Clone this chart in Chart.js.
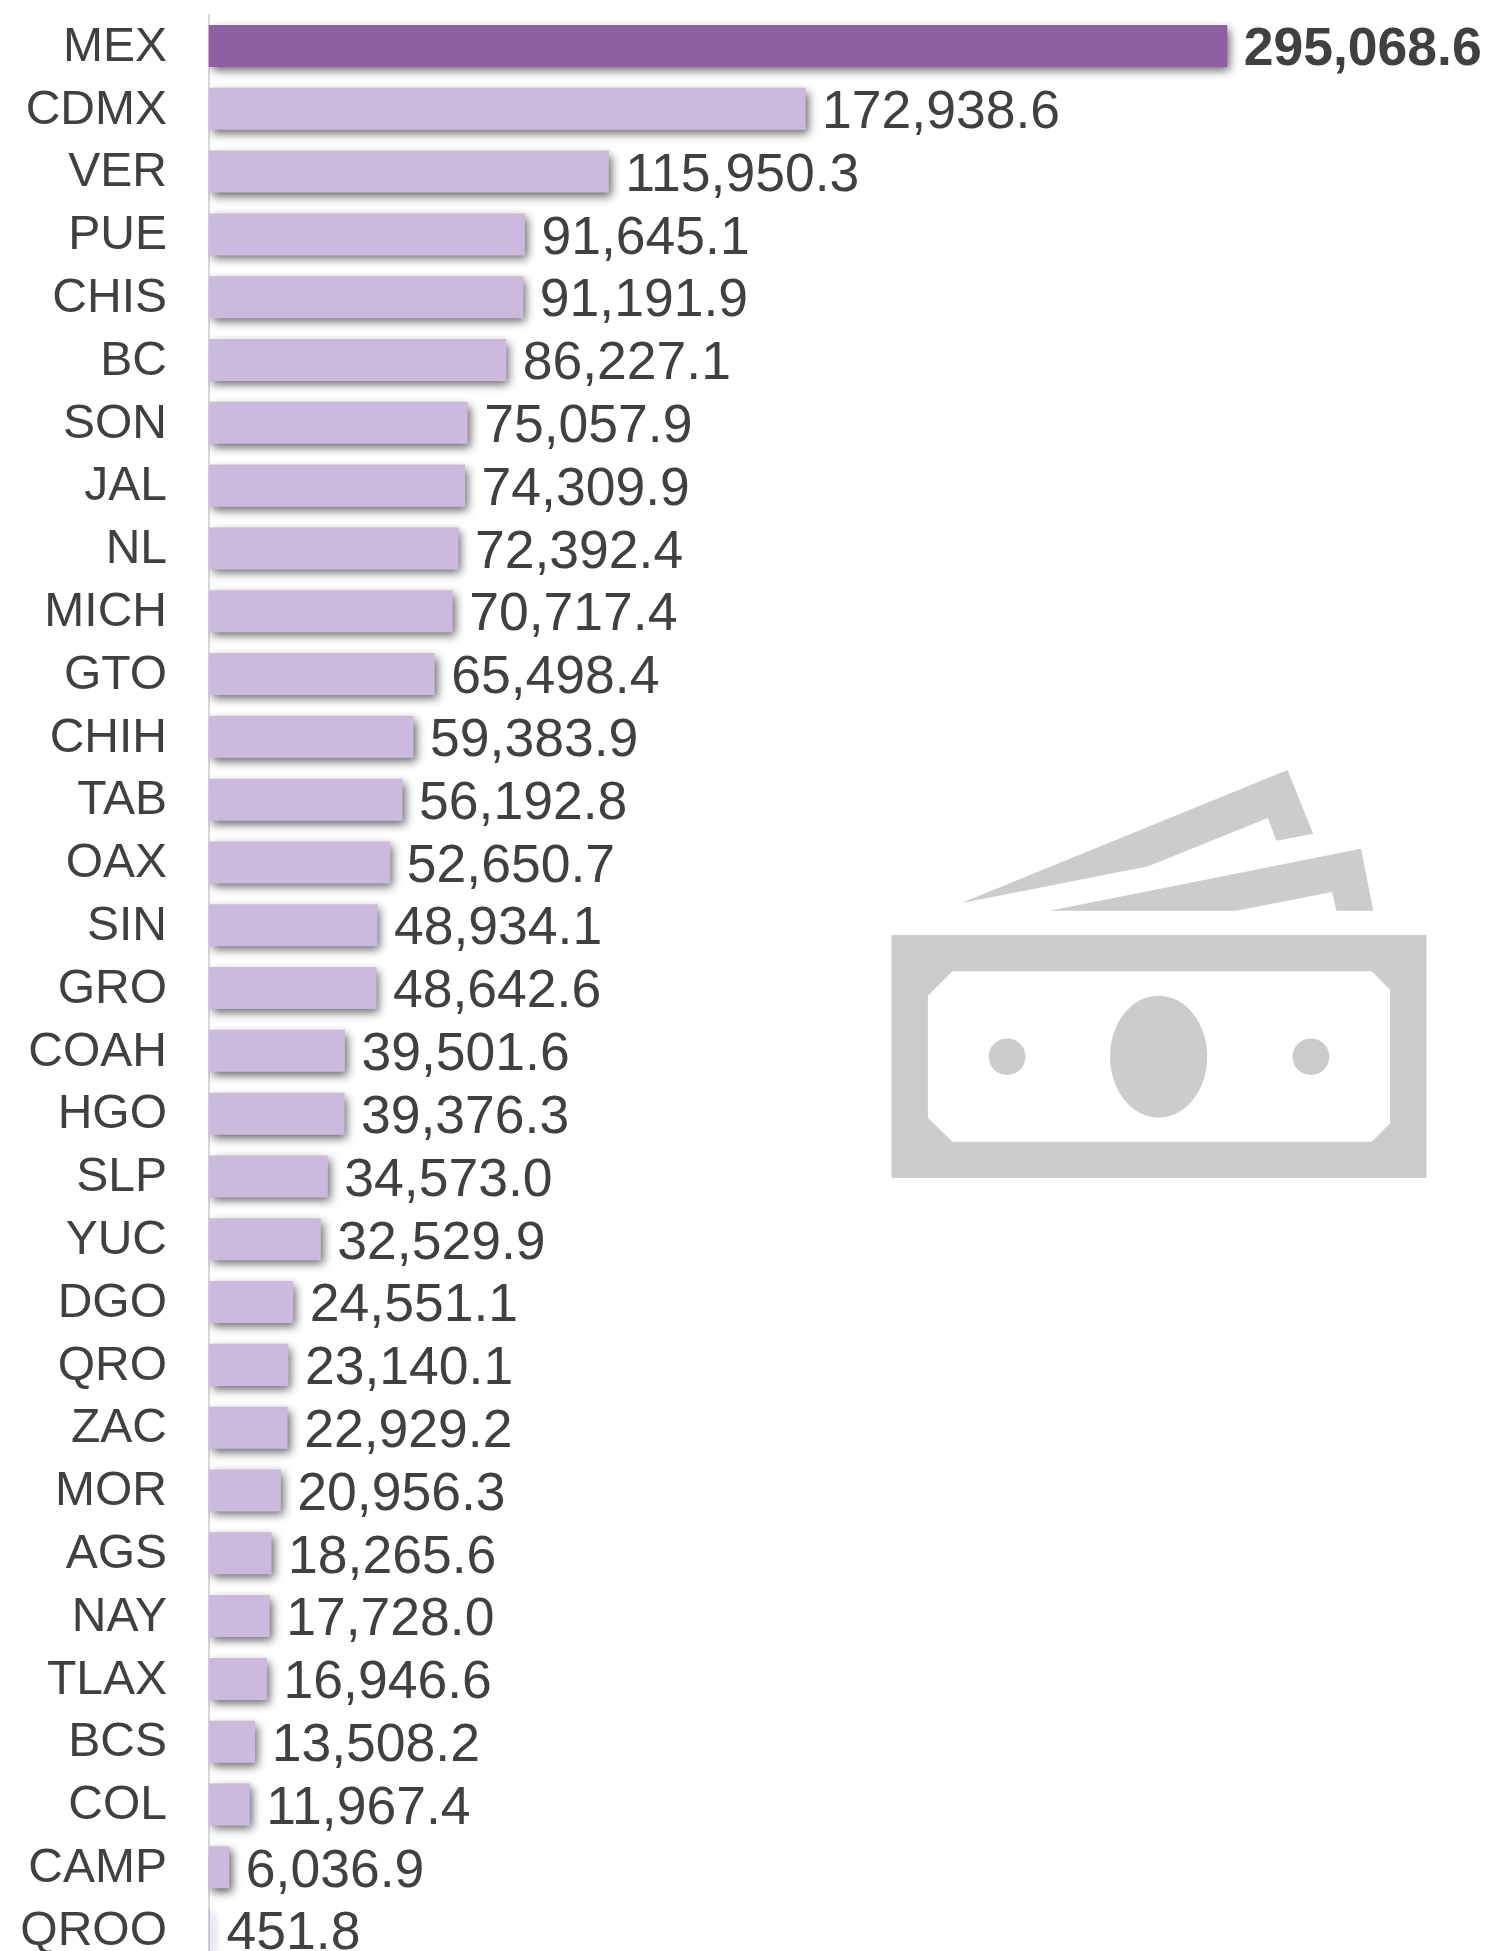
<!DOCTYPE html>
<html>
<head>
<meta charset="utf-8">
<title>Barras por entidad</title>
<script src="https://cdn.jsdelivr.net/npm/chart.js@4/dist/chart.umd.min.js"></script>
<style>
    html, body { margin: 0; background: #fff; height: 1951px; overflow: hidden; }
    #wrap { width: 1490px; height: 1951px; overflow: hidden; }
    canvas { display: block; }
</style>
</head>
<body>
<div id="wrap"><canvas id="barChart" width="1490" height="1975"></canvas></div>
<script>
const states = ['MEX', 'CDMX', 'VER', 'PUE', 'CHIS', 'BC', 'SON', 'JAL', 'NL', 'MICH', 'GTO', 'CHIH', 'TAB', 'OAX', 'SIN', 'GRO',
    'COAH', 'HGO', 'SLP', 'YUC', 'DGO', 'QRO', 'ZAC', 'MOR', 'AGS', 'NAY', 'TLAX', 'BCS', 'COL', 'CAMP', 'QROO'];
const amounts = [295068.6, 172938.6, 115950.3, 91645.1, 91191.9, 86227.1, 75057.9, 74309.9, 72392.4, 70717.4, 65498.4, 59383.9, 56192.8, 52650.7, 48934.1, 48642.6,
    39501.6, 39376.3, 34573.0, 32529.9, 24551.1, 23140.1, 22929.2, 20956.3, 18265.6, 17728.0, 16946.6, 13508.2, 11967.4, 6036.9, 451.8];
const textColor = '#404040';
const fontName = '"Liberation Sans", Arial, sans-serif';

// Soft shadow behind the bars, bottom right
const barShadow = {
    id: 'barShadow',
    beforeDatasetsDraw(chart) {
        const c = chart.ctx;
        c.save();
        c.shadowColor = 'rgba(0, 0, 0, 0.6)';
        c.shadowBlur = 9;
        c.shadowOffsetX = 3;
        c.shadowOffsetY = 4;
    },
    afterDatasetsDraw(chart) {
        chart.ctx.restore();
    }
};

// Value written after the end of each bar
const valueLabels = {
    id: 'valueLabels',
    afterDraw(chart) {
        const c = chart.ctx;
        const bars = chart.getDatasetMeta(0).data;
        c.save();
        c.fillStyle = textColor;
        c.textAlign = 'left';
        c.textBaseline = 'middle';
        bars.forEach((bar, i) => {
            c.font = (i === 0 ? 'bold ' : '') + '53.5px ' + fontName;
            const text = amounts[i].toLocaleString('en-US', { minimumFractionDigits: 1 });
            c.fillText(text, bar.x + 16.5, bar.y + 4.5);
        });
        c.restore();
    }
};

// Banknote icon in the empty part of the chart
const billIcon = {
    id: 'billIcon',
    afterDraw(chart) {
        const c = chart.ctx;
        const shape = pts => {
            c.beginPath();
            pts.forEach((p, i) => i ? c.lineTo(p[0], p[1]) : c.moveTo(p[0], p[1]));
            c.closePath();
            c.fill();
        };
        const oval = (x, y, rx, ry) => {
            c.beginPath();
            c.ellipse(x, y, rx, ry, 0, 0, Math.PI * 2);
            c.fill();
        };
        c.save();
        c.fillStyle = '#cccccc';
        shape([[960.7, 903.3], [1287.5, 770], [1313.2, 833.7], [1276.5, 840.7], [1267.7, 818], [1148.3, 866.3]]);
        shape([[1049.5, 910.7], [1361, 848.7], [1373.3, 910.7], [1336.5, 910.7], [1332, 892], [1236.2, 910.7]]);
        c.fillRect(891.5, 935, 535, 243);
        c.fillStyle = '#ffffff';
        shape([[952.3, 971.3], [1371.7, 971.3], [1390.1, 990], [1390.1, 1123.3], [1371.7, 1141.7], [952.3, 1141.7], [927.9, 1117.7], [927.9, 995.7]]);
        c.fillStyle = '#cccccc';
        oval(1158.6, 1056.7, 48.6, 61);
        oval(1007.1, 1056.7, 18.4, 18.3);
        oval(1310.9, 1056.7, 18.4, 18.3);
        c.restore();
    }
};

const ctx = document.getElementById('barChart').getContext('2d');
new Chart(ctx, {
    type: 'bar',
    data: {
        labels: states,
        datasets: [{
            data: amounts,
            backgroundColor: states.map((s, i) => i === 0 ? '#8e5fa2' : '#cbbadd'),
            borderWidth: 0,
            categoryPercentage: 1,
            barPercentage: 0.669
        }]
    },
    plugins: [barShadow, valueLabels, billIcon],
    options: {
        indexAxis: 'y',
        responsive: false,
        animation: false,
        layout: { padding: { top: 14.6, bottom: 13.5, right: 2, left: 0 } },
        plugins: { legend: { display: false }, tooltip: { enabled: false } },
        scales: {
            x: { display: false, min: 0, max: 370600 },
            y: {
                afterFit(scale) {
                    scale.width = 208.5;
                    // no room kept for half a label above and below
                    scale.paddingTop = 0;
                    scale.paddingBottom = 0;
                },
                grid: { display: false, drawTicks: false },
                border: { color: '#d9d9d9', width: 2 },
                ticks: {
                    autoSkip: false,
                    color: textColor,
                    padding: 41.5,
                    labelOffset: 1.5,
                    font: { family: fontName, size: 48 }
                }
            }
        }
    }
});
</script>
</body>
</html>
